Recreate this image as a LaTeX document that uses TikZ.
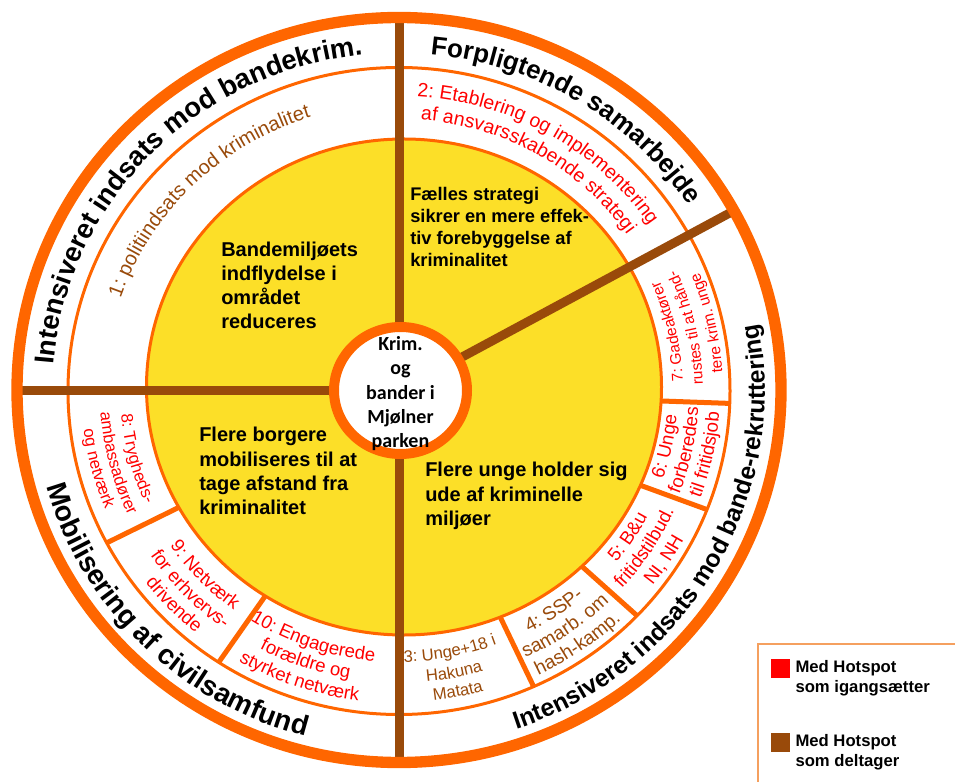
\documentclass[tikz,border=0pt]{standalone}
\usepackage{fontspec}
\setmainfont{Liberation Sans}
\newfontfamily\carlito{Carlito}
\usetikzlibrary{decorations.text}

\definecolor{hsorange}{RGB}{255,102,0}
\definecolor{hsbrown}{RGB}{153,74,10}
\definecolor{hsyellow}{RGB}{252,223,40}
\definecolor{hsred}{RGB}{255,0,0}
\definecolor{hslegend}{RGB}{245,160,95}

\newcommand{\ringfont}[1]{\fontsize{#1}{#1}\selectfont\bfseries}
\newcommand{\redfont}[1]{\fontsize{#1}{#1}\selectfont\color{hsred}}
\newcommand{\brownfont}[1]{\fontsize{#1}{#1}\selectfont\color{hsbrown}}

% one line of text on a ring: centre angle, radius, font, text
\newcommand{\cwline}[4]{\path[decorate,decoration={text along path,text align=center,text={|#3|#4}}]
  ({#1+60}:{1.025*#2} and {#2}) arc[start angle={#1+60},end angle={#1-60},x radius={1.025*#2},y radius={#2}];}
\newcommand{\ccwline}[4]{\path[decorate,decoration={text along path,text align=center,text={|#3|#4}}]
  ({#1-60}:{1.025*#2} and {#2}) arc[start angle={#1-60},end angle={#1+60},x radius={1.025*#2},y radius={#2}];}

\begin{document}
\begin{tikzpicture}[x=0.75pt, y=0.75pt,
  ringline/.style={draw=hsorange, line width=2.25pt},
  spoke/.style={draw=hsbrown, line width=6.75pt},
  divider/.style={draw=hsorange, line width=3.75pt},
  goaltext/.style={anchor=north west, inner sep=0pt, align=left, font=\bfseries\fontsize{15}{18.2}\selectfont},
  legbox/.style={minimum size=14.25pt, inner sep=0pt},
  legtext/.style={anchor=north west, inner sep=0pt, align=left, font=\bfseries\fontsize{12.5}{15}\selectfont}]
\useasboundingbox (-399,-390) rectangle (556,391);

% walls between the boxes of the middle ring
\foreach \a in {-66,-44,-21.5,-2.2,208,237}
  \draw[divider] (\a:230) -- (\a:331 and 323.5);

% yellow core, rings and spokes
\filldraw[fill=hsyellow, ringline] (5,4) ellipse[x radius=257.5, y radius=248];
\draw[ringline] (0,0) ellipse[x radius=331, y radius=323.5];
\foreach \a in {90,180,270,28.9}
  \draw[spoke] (0,0) -- (\a:382 and 372.5);
\draw[draw=hsorange, line width=8.5pt] (0,1) ellipse[x radius=382, y radius=372.5];
\filldraw[fill=white, draw=hsorange, line width=7.5pt] (1.5,0.5) ellipse[x radius=66.5, y radius=63.5];

\node[align=center, inner sep=0pt, font=\carlito\bfseries\fontsize{15}{18.2}\selectfont] (krimtxt) at (1.5,-2.7)
  {Krim.\\og\\bander i\\Mjølner\\parken};

% goals in the yellow core
\node[goaltext] (bandetxt) at (-178,149.6) {Bandemiljøets\\indflydelse i\\området\\reduceres};
\node[goaltext, font=\bfseries\fontsize{13.7}{16.5}\selectfont] (faellestxt) at (11,203.6)
  {Fælles strategi\\sikrer en mere effek-\\tiv forebyggelse af\\kriminalitet};
\node[goaltext] (ungetxt) at (26,-71.1) {Flere unge holder sig\\ude af kriminelle\\miljøer};
\node[goaltext] (borgertxt) at (-200,-36.1) {Flere borgere\\mobiliseres til at\\tage afstand fra\\kriminalitet};

% outer ring
\cwline{136}{338}{\ringfont{20.5}}{Intensiveret indsats mod bandekrim.}
\cwline{58.7}{338}{\ringfont{19.5}}{Forpligtende samarbejde}
\ccwline{-30}{357}{\ringfont{18.5}}{Intensiveret indsats mod bande-rekruttering}
\ccwline{225}{357}{\ringfont{21}}{Mobilisering af civilsamfund}

% middle ring
\cwline{134.7}{287}{\brownfont{15}}{1: politiindsats mod kriminalitet}
\cwline{60}{295}{\redfont{14.6}}{2: Etablering og implementering}
\cwline{60}{272}{\redfont{14.6}}{af ansvarsskabende strategi}

\ccwline{-79}{271}{\brownfont{12.5}}{3: Unge+18 i}
\ccwline{-79}{292}{\brownfont{12.5}}{Hakuna}
\ccwline{-79}{311}{\brownfont{12.5}}{Matata}

\ccwline{-55}{273}{\brownfont{14.4}}{4: SSP-}
\ccwline{-55}{294}{\brownfont{14.4}}{samarb. om}
\ccwline{-55}{315}{\brownfont{14.4}}{hash-kamp.}

\ccwline{-32.7}{273}{\redfont{14}}{5: B{\&}u}
\ccwline{-32.7}{294}{\redfont{14}}{fritidstilbud.}
\ccwline{-32.7}{315}{\redfont{14}}{NI, NH}

\ccwline{-11.8}{272}{\redfont{14}}{6: Unge}
\ccwline{-11.8}{292.5}{\redfont{14}}{forberedes}
\ccwline{-11.8}{313}{\redfont{14}}{til fritidsjob}

\ccwline{12.5}{277}{\redfont{11.6}}{7: Gadeaktører}
\ccwline{12.5}{296.5}{\redfont{11.6}}{rustes til at hånd-}
\ccwline{12.5}{316}{\redfont{11.6}}{tere krim. unge}

\ccwline{194.5}{272}{\redfont{12.5}}{8: Trygheds-}
\ccwline{194.5}{292}{\redfont{12.5}}{ambassadører}
\ccwline{194.5}{310}{\redfont{12.5}}{og netværk}

\ccwline{223.7}{272}{\redfont{14}}{9: Netværk}
\ccwline{223.7}{293}{\redfont{14}}{for erhvervs-}
\ccwline{223.7}{313}{\redfont{14}}{drivende}

\ccwline{251}{271}{\redfont{13.9}}{10: Engagerede}
\ccwline{251}{291.5}{\redfont{13.9}}{forældre og}
\ccwline{251}{312}{\redfont{13.9}}{styrket netværk}

% legend
\draw[draw=hslegend, line width=1.1pt] (359,-253) rectangle (620,-430);
\node[legbox, fill=hsred] (igangbox) at (381.5,-277.5) {};
\node[legbox, fill=hsbrown] (deltagbox) at (381.5,-351.5) {};
\node[legtext] (igangtxt) at ([xshift=3.75pt, yshift=-1.1pt]igangbox.north east) {Med Hotspot\\som igangsætter};
\node[legtext] (deltagtxt) at ([xshift=3.75pt, yshift=-1.1pt]deltagbox.north east) {Med Hotspot\\som deltager};
\end{tikzpicture}
\end{document}
